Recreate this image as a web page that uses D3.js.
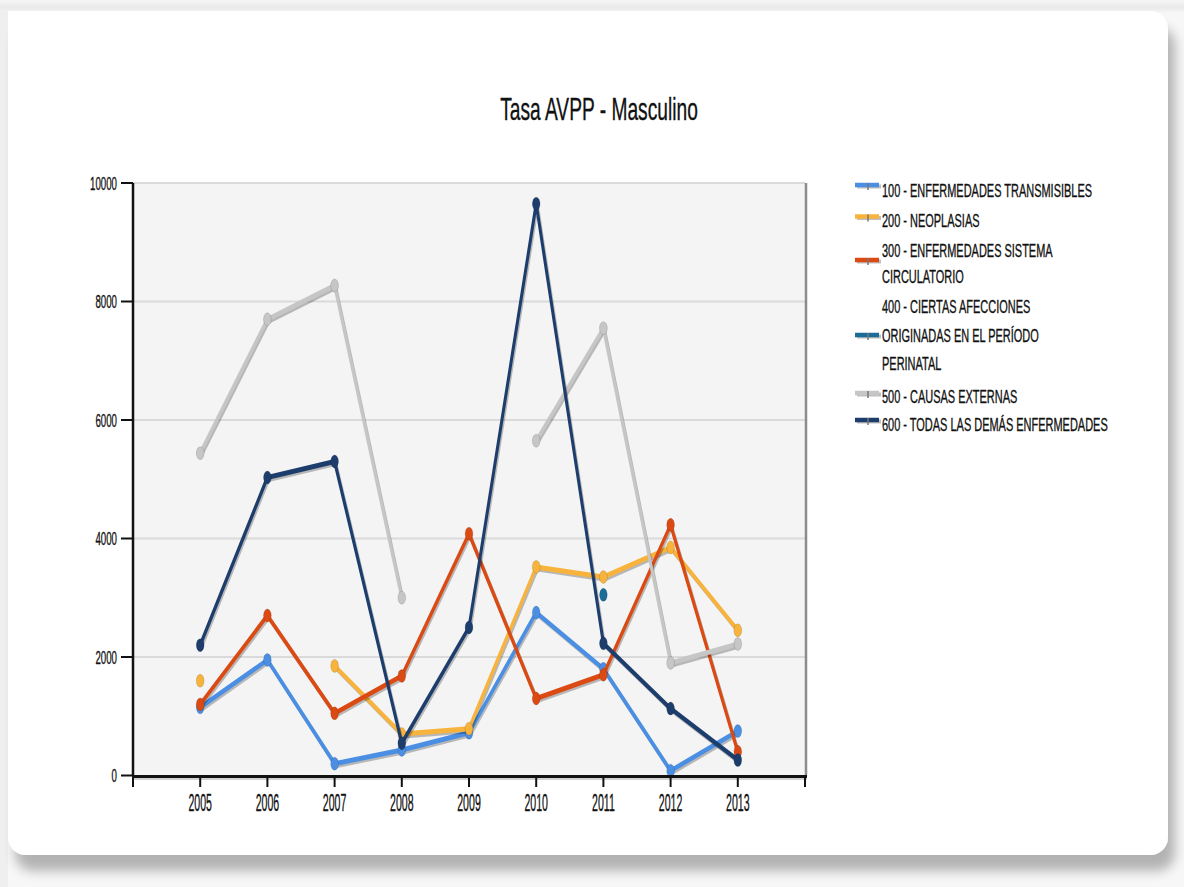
<!DOCTYPE html>
<html>
<head>
<meta charset="utf-8">
<script src="https://cdn.jsdelivr.net/npm/d3@7"></script>
<style>
  html, body { margin: 0; padding: 0; background: #f3f3f3; }
  svg { display: block; }
  text { font-family: "Liberation Sans", Arial, sans-serif; fill: #111; stroke: #111; stroke-width: 0.35px; }
</style>
</head>
<body>
<svg id="chart" width="1184" height="887"></svg>
<script>
// Years on the x axis
const years = [2005, 2006, 2007, 2008, 2009, 2010, 2011, 2012, 2013];
const yTicks = [0, 2000, 4000, 6000, 8000, 10000];

// Rates per series (null = no data for that year)
const s100 = [1150, 1950, 200, 430, 720, 2750, 1800, 80, 750];
const s200 = [1600, null, 1850, 700, 790, 3520, 3350, 3850, 2450];
const s300 = [1200, 2700, 1050, 1680, 4080, 1300, 1700, 4230, 400];
const s400 = [null, null, null, null, null, null, 3050, null, null];
const s500 = [5440, 7700, 8270, 3000, null, 5650, 7550, 1900, 2220];
const s600 = [2200, 5030, 5300, 545, 2500, 9650, 2230, 1130, 260];

const seriesValues = [s100, s200, s300, s400, s500, s600];
const seriesColors = ["#4a8fe3", "#f8b33c", "#dc4a14", "#1c6c98", "#c6c6c6", "#1d3e6d"];
const legendLabels = [
  ["100 - ENFERMEDADES TRANSMISIBLES"],
  ["200 - NEOPLASIAS"],
  ["300 - ENFERMEDADES SISTEMA", "CIRCULATORIO"],
  ["400 - CIERTAS AFECCIONES", "ORIGINADAS EN EL PERÍODO", "PERINATAL"],
  ["500 - CAUSAS EXTERNAS"],
  ["600 - TODAS LAS DEMÁS ENFERMEDADES"]
];
const chartTitle = "Tasa AVPP - Masculino";

const svg = d3.select("#chart");
const defs = svg.append("defs");

// Page background and card with drop shadow
const topGrad = defs.append("linearGradient").attr("id", "topGrad")
  .attr("x1", 0).attr("y1", 0).attr("x2", 0).attr("y2", 1);
topGrad.append("stop").attr("offset", "0%").attr("stop-color", "#f6f6f6");
topGrad.append("stop").attr("offset", "60%").attr("stop-color", "#e9e9e9");
topGrad.append("stop").attr("offset", "100%").attr("stop-color", "#f4f4f4");

const cardShadow = defs.append("filter").attr("id", "cardShadow")
  .attr("x", "-5%").attr("y", "-5%").attr("width", "110%").attr("height", "110%");
cardShadow.append("feGaussianBlur").attr("in", "SourceAlpha").attr("stdDeviation", 6).attr("result", "b");
cardShadow.append("feOffset").attr("in", "b").attr("dx", 7).attr("dy", 16).attr("result", "o");
cardShadow.append("feComponentTransfer").attr("in", "o").attr("result", "s")
  .append("feFuncA").attr("type", "linear").attr("slope", 0.28);
const m = cardShadow.append("feMerge");
m.append("feMergeNode").attr("in", "s");
m.append("feMergeNode").attr("in", "SourceGraphic");

svg.append("rect").attr("width", 1184).attr("height", 887).attr("fill", "#f7f7f7");
svg.append("rect").attr("width", 1184).attr("height", 12).attr("fill", "url(#topGrad)");
svg.append("rect").attr("x", 0).attr("y", 11).attr("width", 8).attr("height", 876).attr("fill", "#efefef");
svg.append("rect").attr("x", 8).attr("y", 11).attr("width", 1160).attr("height", 844)
  .attr("rx", 18).attr("fill", "#fff").attr("filter", "url(#cardShadow)");
svg.append("rect").attr("x", 8).attr("y", 11).attr("width", 40).attr("height", 40).attr("fill", "#fff");

// Plot geometry
const pLeft = 133, pRight = 805, pTop = 183, pBottom = 775.5;
const SX = 0.6; // horizontal squeeze of marks and glyphs

const x = d3.scaleLinear().domain([2004, 2014]).range([pLeft, pRight]);
const xs = d3.scaleLinear().domain([2004, 2014]).range([pLeft / SX, pRight / SX]);
const y = d3.scaleLinear().domain([0, 10000]).range([pBottom, pTop]);

// Title
svg.append("text")
  .attr("transform", `translate(599,120) scale(0.6,1)`)
  .attr("text-anchor", "middle")
  .style("font-size", "32px")
  .text(chartTitle);

// Plot background
svg.append("rect").attr("x", pLeft).attr("y", pTop)
  .attr("width", pRight - pLeft).attr("height", pBottom - pTop).attr("fill", "#f4f4f4");

// Horizontal grid lines
svg.append("g").selectAll("line").data(yTicks.filter(v => v > 0)).join("line")
  .attr("x1", pLeft).attr("x2", pRight)
  .attr("y1", d => y(d)).attr("y2", d => y(d))
  .attr("stroke", "#dadada").attr("stroke-width", 2);

// Right border of the plot area
svg.append("line").attr("x1", pRight + 1).attr("x2", pRight + 1)
  .attr("y1", pTop).attr("y2", pBottom)
  .attr("stroke", "#8c8c8c").attr("stroke-width", 2.5);

// Series lines and markers (drawn in squeezed coordinates)
const plot = svg.append("g").attr("transform", `scale(${SX},1)`);

const line = d3.line()
  .defined(d => d.v != null)
  .x(d => xs(d.year))
  .y(d => y(d.v));

seriesValues.forEach((vals, i) => {
  const pts = years.map((yr, j) => ({ year: yr, v: vals[j] }));
  const g = plot.append("g");
  // soft shadow under each line
  g.append("path").datum(pts)
    .attr("transform", "translate(2,2)")
    .attr("d", line).attr("fill", "none")
    .attr("stroke", "rgba(0,0,0,0.25)").attr("stroke-width", 5)
    .attr("stroke-linejoin", "round");
  g.append("path").datum(pts)
    .attr("d", line).attr("fill", "none")
    .attr("stroke", seriesColors[i]).attr("stroke-width", 5)
    .attr("stroke-linejoin", "round");
  g.selectAll("circle").data(pts.filter(d => d.v != null)).join("circle")
    .attr("cx", d => xs(d.year)).attr("cy", d => y(d.v))
    .attr("r", 6.5).attr("fill", seriesColors[i])
    .attr("stroke", "rgba(0,0,0,0.15)").attr("stroke-width", 1);
});

// Y axis
const yAxis = svg.append("g");
yAxis.append("line").attr("x1", pLeft).attr("x2", pLeft).attr("y1", pTop).attr("y2", pBottom)
  .attr("stroke", "#111").attr("stroke-width", 2.5);
yAxis.selectAll("line.tick").data(yTicks).join("line").attr("class", "tick")
  .attr("x1", 121).attr("x2", pLeft).attr("y1", d => y(d)).attr("y2", d => y(d))
  .attr("stroke", "#111").attr("stroke-width", 2);
yAxis.selectAll("text").data(yTicks).join("text")
  .attr("transform", d => `translate(117,${y(d) + 6.5}) scale(0.51,1)`)
  .attr("text-anchor", "end")
  .style("font-size", "19px")
  .text(d => d);

// X axis
const xTicks = d3.range(2004, 2015);
const xAxis = svg.append("g");
xAxis.append("line").attr("x1", pLeft).attr("x2", pRight + 2).attr("y1", pBottom + 1).attr("y2", pBottom + 1)
  .attr("stroke", "#111").attr("stroke-width", 3);
xAxis.append("line").attr("x1", pLeft).attr("x2", pRight + 2).attr("y1", pBottom + 3.5).attr("y2", pBottom + 3.5)
  .attr("stroke", "rgba(0,0,0,0.18)").attr("stroke-width", 2);
xAxis.selectAll("line.tick").data(xTicks).join("line").attr("class", "tick")
  .attr("x1", d => x(d)).attr("x2", d => x(d)).attr("y1", pBottom).attr("y2", 787)
  .attr("stroke", "#111").attr("stroke-width", 2);
xAxis.selectAll("text").data(years).join("text")
  .attr("transform", d => `translate(${x(d)},811) scale(0.46,1)`)
  .attr("text-anchor", "middle")
  .style("font-size", "23px")
  .text(d => d);

// Legend
const legendSwatchY = [185, 216.5, 260, 335, 393, 420];
const legendBaselines = [[196.5], [226.5], [256.5, 283], [313, 342, 369.5], [403], [430.5]];
const legend = svg.append("g");
legendLabels.forEach((lines, i) => {
  const sy = legendSwatchY[i];
  legend.append("line").attr("x1", 857).attr("x2", 881).attr("y1", sy + 1.5).attr("y2", sy + 1.5)
    .attr("stroke", "rgba(0,0,0,0.25)").attr("stroke-width", 4);
  legend.append("line").attr("x1", 855).attr("x2", 879).attr("y1", sy).attr("y2", sy)
    .attr("stroke", seriesColors[i]).attr("stroke-width", 4.5);
  legend.append("line").attr("x1", 868).attr("x2", 868).attr("y1", sy - 2).attr("y2", sy + 5)
    .attr("stroke", "#777").attr("stroke-width", 1.5);
  lines.forEach((t, k) => {
    legend.append("text")
      .attr("transform", `translate(882,${legendBaselines[i][k]}) scale(0.61,1)`)
      .style("font-size", "18px")
      .text(t);
  });
});
</script>
</body>
</html>
